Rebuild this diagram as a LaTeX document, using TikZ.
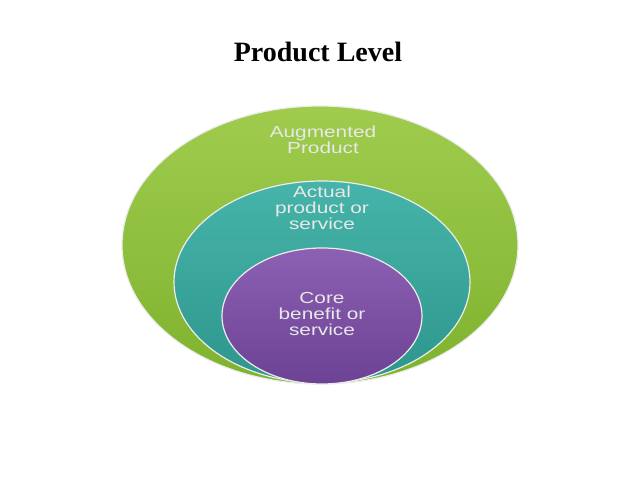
\documentclass[tikz,border=0pt]{standalone}
\usepackage{fontspec}
\setmainfont{Liberation Serif}
\newfontfamily\arialwide[FakeStretch=1.3]{Liberation Sans}
\usetikzlibrary{shapes.geometric}
\definecolor{grnT}{RGB}{160,204,78}
\definecolor{grnB}{RGB}{126,178,46}
\definecolor{tealT}{RGB}{70,180,170}
\definecolor{tealB}{RGB}{46,150,140}
\definecolor{purT}{RGB}{140,96,178}
\definecolor{purB}{RGB}{108,66,148}
\definecolor{lbltxt}{RGB}{232,232,232}
\tikzset{
  ring/.style={ellipse, inner sep=0pt, draw=white!85!gray, line width=1.2pt},
  lbl/.style={font=\arialwide\fontsize{16}{16}\selectfont, text=lbltxt, align=center, inner sep=0pt},
  ttl/.style={font=\bfseries\fontsize{28}{32}\selectfont, text=black, inner sep=0pt}
}
\begin{document}
\begin{tikzpicture}[x=1pt,y=-1pt]
\useasboundingbox (0,0) rectangle (638,479);
\fill[white] (0,0) rectangle (638,479);
\node[ttl] (title) at (318,52) {Product Level};
\node[ring, top color=grnT, bottom color=grnB, minimum width=396pt, minimum height=278pt] (outer) at (320,245) {};
\node[ring, top color=tealT, bottom color=tealB, minimum width=296pt, minimum height=202pt] (mid) at (322,282) {};
\node[ring, top color=purT, bottom color=purB, minimum width=200pt, minimum height=136pt] (core) at (322,316) {};
\node[lbl] (aug) at (323,140) {Augmented\\Product};
\node[lbl] (act) at (322,208) {Actual\\product or\\service};
\node[lbl] (cor) at (322,314) {Core\\benefit or\\service};
\end{tikzpicture}
\end{document}
